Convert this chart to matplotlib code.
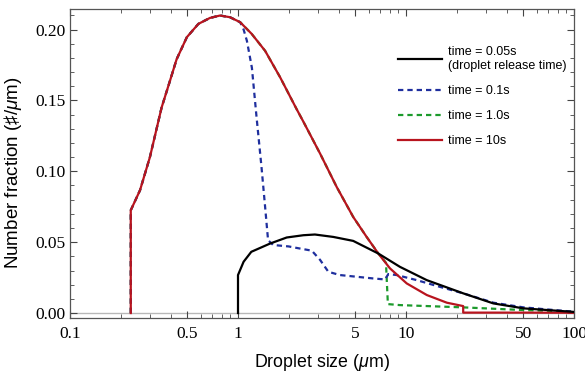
import numpy as np
import matplotlib
matplotlib.use("Agg")
import matplotlib.pyplot as plt
from matplotlib.ticker import FixedLocator, FixedFormatter, MultipleLocator, LogLocator, NullFormatter

plt.rcParams['font.family'] = ['Liberation Sans', 'DejaVu Sans']
plt.rcParams['mathtext.fontset'] = 'custom'
plt.rcParams['mathtext.it'] = 'Liberation Sans:italic'
plt.rcParams['mathtext.rm'] = 'Liberation Sans'

# time = 0.05 s (release)
x_black = [1.0, 1.0, 1.08, 1.2, 1.55, 1.95, 2.45, 2.87, 3.69, 4.85, 6.84, 9.2, 13.3, 21.9, 33.1, 50, 100]
y_black = [0.0, 0.0268, 0.0362, 0.0432, 0.049, 0.0533, 0.0549, 0.0554, 0.0537, 0.0509, 0.042, 0.0326, 0.0232, 0.0139, 0.0068, 0.0033, 0.0008]

# time = 10 s
x_red = [0.23, 0.23, 0.261, 0.299, 0.351, 0.394, 0.431, 0.496, 0.581, 0.681, 0.782, 0.896, 1.03, 1.205, 1.45, 1.78,
         2.23, 2.45, 3.08, 3.87, 4.85, 5.83, 6.84, 8.03, 10.1, 13.3, 17.5, 21.9, 21.9, 50, 100]
y_red = [0.0, 0.0725, 0.0866, 0.110, 0.145, 0.164, 0.179, 0.1946, 0.204, 0.2082, 0.2099, 0.2087, 0.2052, 0.197, 0.185, 0.1664,
         0.144, 0.135, 0.1125, 0.0889, 0.0678, 0.0537, 0.042, 0.0315, 0.0209, 0.0127, 0.0073, 0.0049, 0.0003, 0.0003, 0.0002]

# time = 0.1 s
x_blue = [0.23, 0.23, 0.261, 0.299, 0.351, 0.394, 0.431, 0.496, 0.581, 0.681, 0.782, 0.896, 1.03, 1.08, 1.13, 1.21,
          1.29, 1.38, 1.45, 1.51, 1.62, 2.0, 2.34, 2.75, 3.08, 3.45, 4.04, 5.08, 6.38, 7.5, 7.85, 8.8, 11.6, 15.9,
          21.9, 33.1, 50, 100]
y_blue = [0.0, 0.0725, 0.0866, 0.110, 0.145, 0.164, 0.179, 0.1946, 0.204, 0.2082, 0.2099, 0.2087, 0.2052, 0.200, 0.192, 0.173,
          0.138, 0.103, 0.0749, 0.0514, 0.048, 0.047, 0.0455, 0.044, 0.0375, 0.0291, 0.0268, 0.0256, 0.0244, 0.0237, 0.0275, 0.0268, 0.0232, 0.0185,
          0.0139, 0.0073, 0.004, 0.0009]

# time = 1.0 s
x_green = [0.23, 0.23, 0.261, 0.299, 0.351, 0.394, 0.431, 0.496, 0.581, 0.681, 0.782, 0.896, 1.03, 1.205, 1.45, 1.78,
           2.23, 2.45, 3.08, 3.87, 4.85, 5.83, 6.84, 7.6, 7.8, 9.2, 21.9, 50, 100]
y_green = [0.0, 0.0725, 0.0866, 0.110, 0.145, 0.164, 0.179, 0.1946, 0.204, 0.2082, 0.2099, 0.2087, 0.2052, 0.197, 0.185, 0.1664,
           0.144, 0.135, 0.1125, 0.0889, 0.0678, 0.0537, 0.042, 0.0355, 0.0063, 0.0056, 0.004, 0.0021, 0.001]

xticks = [0.1, 0.5, 1, 5, 10, 50, 100]
xticklabels = ['0.1', '0.5', '1', '5', '10', '50', '100']
yticks = [0.0, 0.05, 0.10, 0.15, 0.20]
yticklabels = ['0.00', '0.05', '0.10', '0.15', '0.20']

fig = plt.figure(figsize=(5.85, 3.75), dpi=100)
ax = fig.add_axes([70 / 585, 1 - 318 / 375, (574 - 70) / 585, (318 - 9) / 375])

dash = (0, (2.4, 1.8))
ax.axhline(0, color='#b8b8b8', lw=1.0, zorder=1)
ax.plot(x_green, y_green, color='#1c9a2c', lw=1.6, ls=dash, label='time = 1.0s', zorder=2)
ax.plot(x_blue, y_blue, color='#1f2f9e', lw=1.6, ls=dash, label='time = 0.1s', zorder=3)
ax.plot(x_red, y_red, color='#b8141e', lw=1.6, label='time = 10s', zorder=4)
ax.plot(x_black, y_black, color='black', lw=1.6, label='time = 0.05s\n(droplet release time)', zorder=5)

ax.set_xscale('log')
ax.set_xlim(0.1, 100)
ax.set_ylim(-0.0035, 0.2145)

ax.xaxis.set_major_locator(FixedLocator(xticks))
ax.xaxis.set_major_formatter(FixedFormatter(xticklabels))
ax.xaxis.set_minor_locator(LogLocator(base=10, subs=np.arange(2, 10)))
ax.xaxis.set_minor_formatter(NullFormatter())
ax.yaxis.set_major_locator(FixedLocator(yticks))
ax.yaxis.set_major_formatter(FixedFormatter(yticklabels))
ax.yaxis.set_minor_locator(MultipleLocator(0.01))

ax.tick_params(which='both', direction='in', top=True, right=True, color='#444444')
ax.tick_params(which='major', length=5, width=0.8)
ax.tick_params(which='minor', length=3, width=0.6)
for lab in ax.get_xticklabels() + ax.get_yticklabels():
    lab.set_fontfamily('Liberation Serif')
    lab.set_fontsize(12.5)
ax.tick_params(axis='x', pad=6)
for s in ax.spines.values():
    s.set_color('#555555')
    s.set_linewidth(0.9)

ax.set_xlabel(r'Droplet size ($\mu$m)', fontsize=12.8, labelpad=7)
ax.set_ylabel('Number fraction (♯/$\\mu$m)', fontsize=13.5, labelpad=5)
ax.yaxis.set_label_coords(-0.092, 0.47)

h, l = ax.get_legend_handles_labels()
order = [3, 1, 0, 2]
leg = fig.legend([h[i] for i in order], [l[i] for i in order], loc='upper left',
                 bbox_to_anchor=(398 / 585, 1 - 46 / 375), bbox_transform=fig.transFigure,
                 frameon=False, fontsize=9, borderpad=0, borderaxespad=0,
                 handlelength=3.5, handletextpad=0.5, labelspacing=1.05)

fig.savefig('out.png', dpi=100)
